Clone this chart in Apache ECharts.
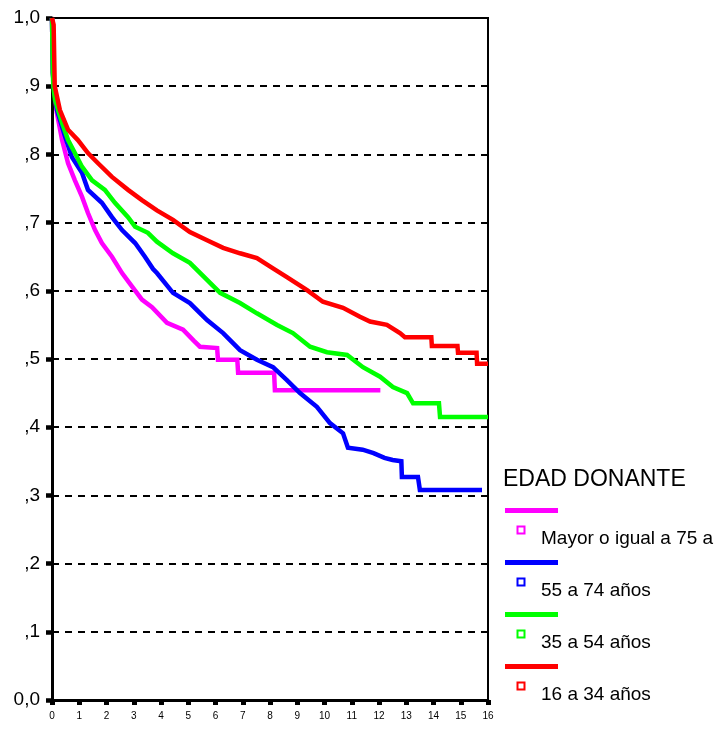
<!DOCTYPE html>
<html>
<head>
<meta charset="utf-8">
<script src="https://cdn.jsdelivr.net/npm/echarts@6/dist/echarts.min.js"></script>
<style>
html,body{margin:0;padding:0;background:#fff;}
#chart{width:728px;height:729px;}
</style>
</head>
<body>
<div id="chart"></div>
<script>
// ---- data (x = years, y = cumulative survival) ----
const legendTitle = 'EDAD DONANTE';
const seriesNames = ['Mayor o igual a 75 a', '55 a 74 años', '35 a 54 años', '16 a 34 años'];
const seriesColors = ['#FF00FF', '#0000FF', '#00FF00', '#FF0000'];
const yTickLabels = ['0,0', ',1', ',2', ',3', ',4', ',5', ',6', ',7', ',8', ',9', '1,0'];
const xTickLabels = ['0','1','2','3','4','5','6','7','8','9','10','11','12','13','14','15','16'];

const mayor75 = [[0,1],[0.03,0.92],[0.07,0.9],[0.18,0.861],[0.37,0.821],[0.59,0.787],[0.84,0.762],[1.10,0.738],[1.32,0.714],[1.58,0.689],[1.83,0.67],[2.20,0.65],[2.57,0.626],[2.94,0.606],[3.30,0.587],[3.67,0.576],[4.22,0.553],[4.81,0.543],[5.2,0.527],[5.43,0.518],[6.06,0.516],[6.09,0.499],[6.80,0.499],[6.83,0.48],[8.15,0.48],[8.18,0.454],[12.05,0.454]];
const edad55a74 = [[0,1],[0.03,0.92],[0.07,0.9],[0.18,0.865],[0.48,0.826],[0.73,0.796],[1.10,0.773],[1.32,0.748],[1.83,0.729],[2.20,0.708],[2.57,0.689],[3.05,0.67],[3.41,0.65],[3.71,0.632],[3.85,0.626],[4.44,0.597],[5.06,0.582],[5.69,0.557],[6.28,0.538],[6.90,0.513],[7.52,0.499],[8.11,0.488],[8.62,0.469],[9.10,0.45],[9.72,0.43],[10.2,0.406],[10.68,0.391],[10.86,0.370],[11.4,0.367],[11.8,0.362],[12.2,0.355],[12.5,0.352],[12.82,0.350],[12.84,0.327],[13.43,0.327],[13.5,0.308],[15.78,0.308]];
const edad35a54 = [[0,1],[0.03,0.92],[0.05,0.9],[0.11,0.88],[0.37,0.846],[0.59,0.821],[0.84,0.802],[1.10,0.782],[1.47,0.762],[1.94,0.748],[2.31,0.729],[2.79,0.708],[3.05,0.694],[3.52,0.685],[3.85,0.672],[4.44,0.655],[5.06,0.641],[5.69,0.616],[6.17,0.597],[6.90,0.582],[7.52,0.567],[8.26,0.55],[8.84,0.538],[9.47,0.518],[10.09,0.51],[10.83,0.506],[11.41,0.488],[12.04,0.474],[12.51,0.459],[13.03,0.45],[13.25,0.435],[14.20,0.435],[14.24,0.415],[16,0.415]];
const edad16a34 = [[0,1],[0.06,0.99],[0.1,0.9],[0.29,0.865],[0.59,0.836],[0.95,0.821],[1.32,0.802],[1.69,0.787],[2.20,0.767],[2.79,0.748],[3.30,0.733],[3.85,0.718],[4.44,0.704],[5.06,0.686],[5.69,0.674],[6.28,0.663],[6.90,0.655],[7.52,0.648],[8.11,0.633],[8.62,0.62],[9.36,0.601],[9.94,0.584],[10.68,0.575],[11.30,0.562],[11.67,0.555],[12.29,0.55],[12.77,0.538],[12.95,0.532],[13.92,0.532],[13.94,0.519],[14.88,0.519],[14.9,0.509],[15.58,0.509],[15.6,0.493],[16,0.493]];
const seriesData = [mayor75, edad55a74, edad35a54, edad16a34];

const FONT = 'Liberation Sans, Arial, sans-serif';
const chart = echarts.init(document.getElementById('chart'));

const legendGraphics = [{
  type: 'text', left: 503, top: 468,
  style: { text: legendTitle, fontSize: 23, fontFamily: FONT, fill: '#000' }
}];
seriesNames.forEach((name, i) => {
  const barY = 510.5 + i * 52;
  legendGraphics.push({
    type: 'rect', shape: { x: 505, y: barY - 2.5, width: 53, height: 5 },
    style: { fill: seriesColors[i] }
  });
  legendGraphics.push({
    type: 'rect', shape: { x: 517.5, y: barY + 16, width: 7, height: 7 },
    style: { fill: 'none', stroke: seriesColors[i], lineWidth: 2 }
  });
  legendGraphics.push({
    type: 'text', x: 541, y: barY + 28,
    style: { text: name, fontSize: 19, fontFamily: FONT, fill: '#000', verticalAlign: 'middle', align: 'left' }
  });
});

chart.setOption({
  animation: false,
  backgroundColor: '#fff',
  grid: { left: 52, right: 240, top: 18, bottom: 29, show: true, borderColor: '#000', borderWidth: 2, containLabel: false },
  xAxis: {
    type: 'value', min: 0, max: 16, interval: 1,
    axisLine: { show: true, onZero: false, lineStyle: { color: '#000', width: 3 } },
    axisTick: { show: true, length: 5, lineStyle: { color: '#000', width: 5 } },
    axisLabel: { fontSize: 10, fontFamily: FONT, color: '#000', margin: 11,
      formatter: v => xTickLabels[Math.round(v)] },
    splitLine: { show: false }
  },
  yAxis: {
    type: 'value', min: 0, max: 1, interval: 0.1,
    axisLine: { show: true, onZero: false, lineStyle: { color: '#000', width: 3 } },
    axisTick: { show: true, length: 6, lineStyle: { color: '#000', width: 4.5 } },
    axisLabel: { fontSize: 19, fontFamily: FONT, color: '#000', margin: 12,
      formatter: v => yTickLabels[Math.round(v * 10)] },
    splitLine: { show: true, lineStyle: { color: '#000', width: 2, type: [7, 6] } }
  },
  series: seriesNames.map((name, i) => ({
    name: name, type: 'line', data: seriesData[i], showSymbol: false, symbol: 'none',
    lineStyle: { color: seriesColors[i], width: 4.5, join: 'miter' },
    itemStyle: { color: seriesColors[i] },
    z: 2 + i
  })),
  graphic: legendGraphics
});
</script>
</body>
</html>
